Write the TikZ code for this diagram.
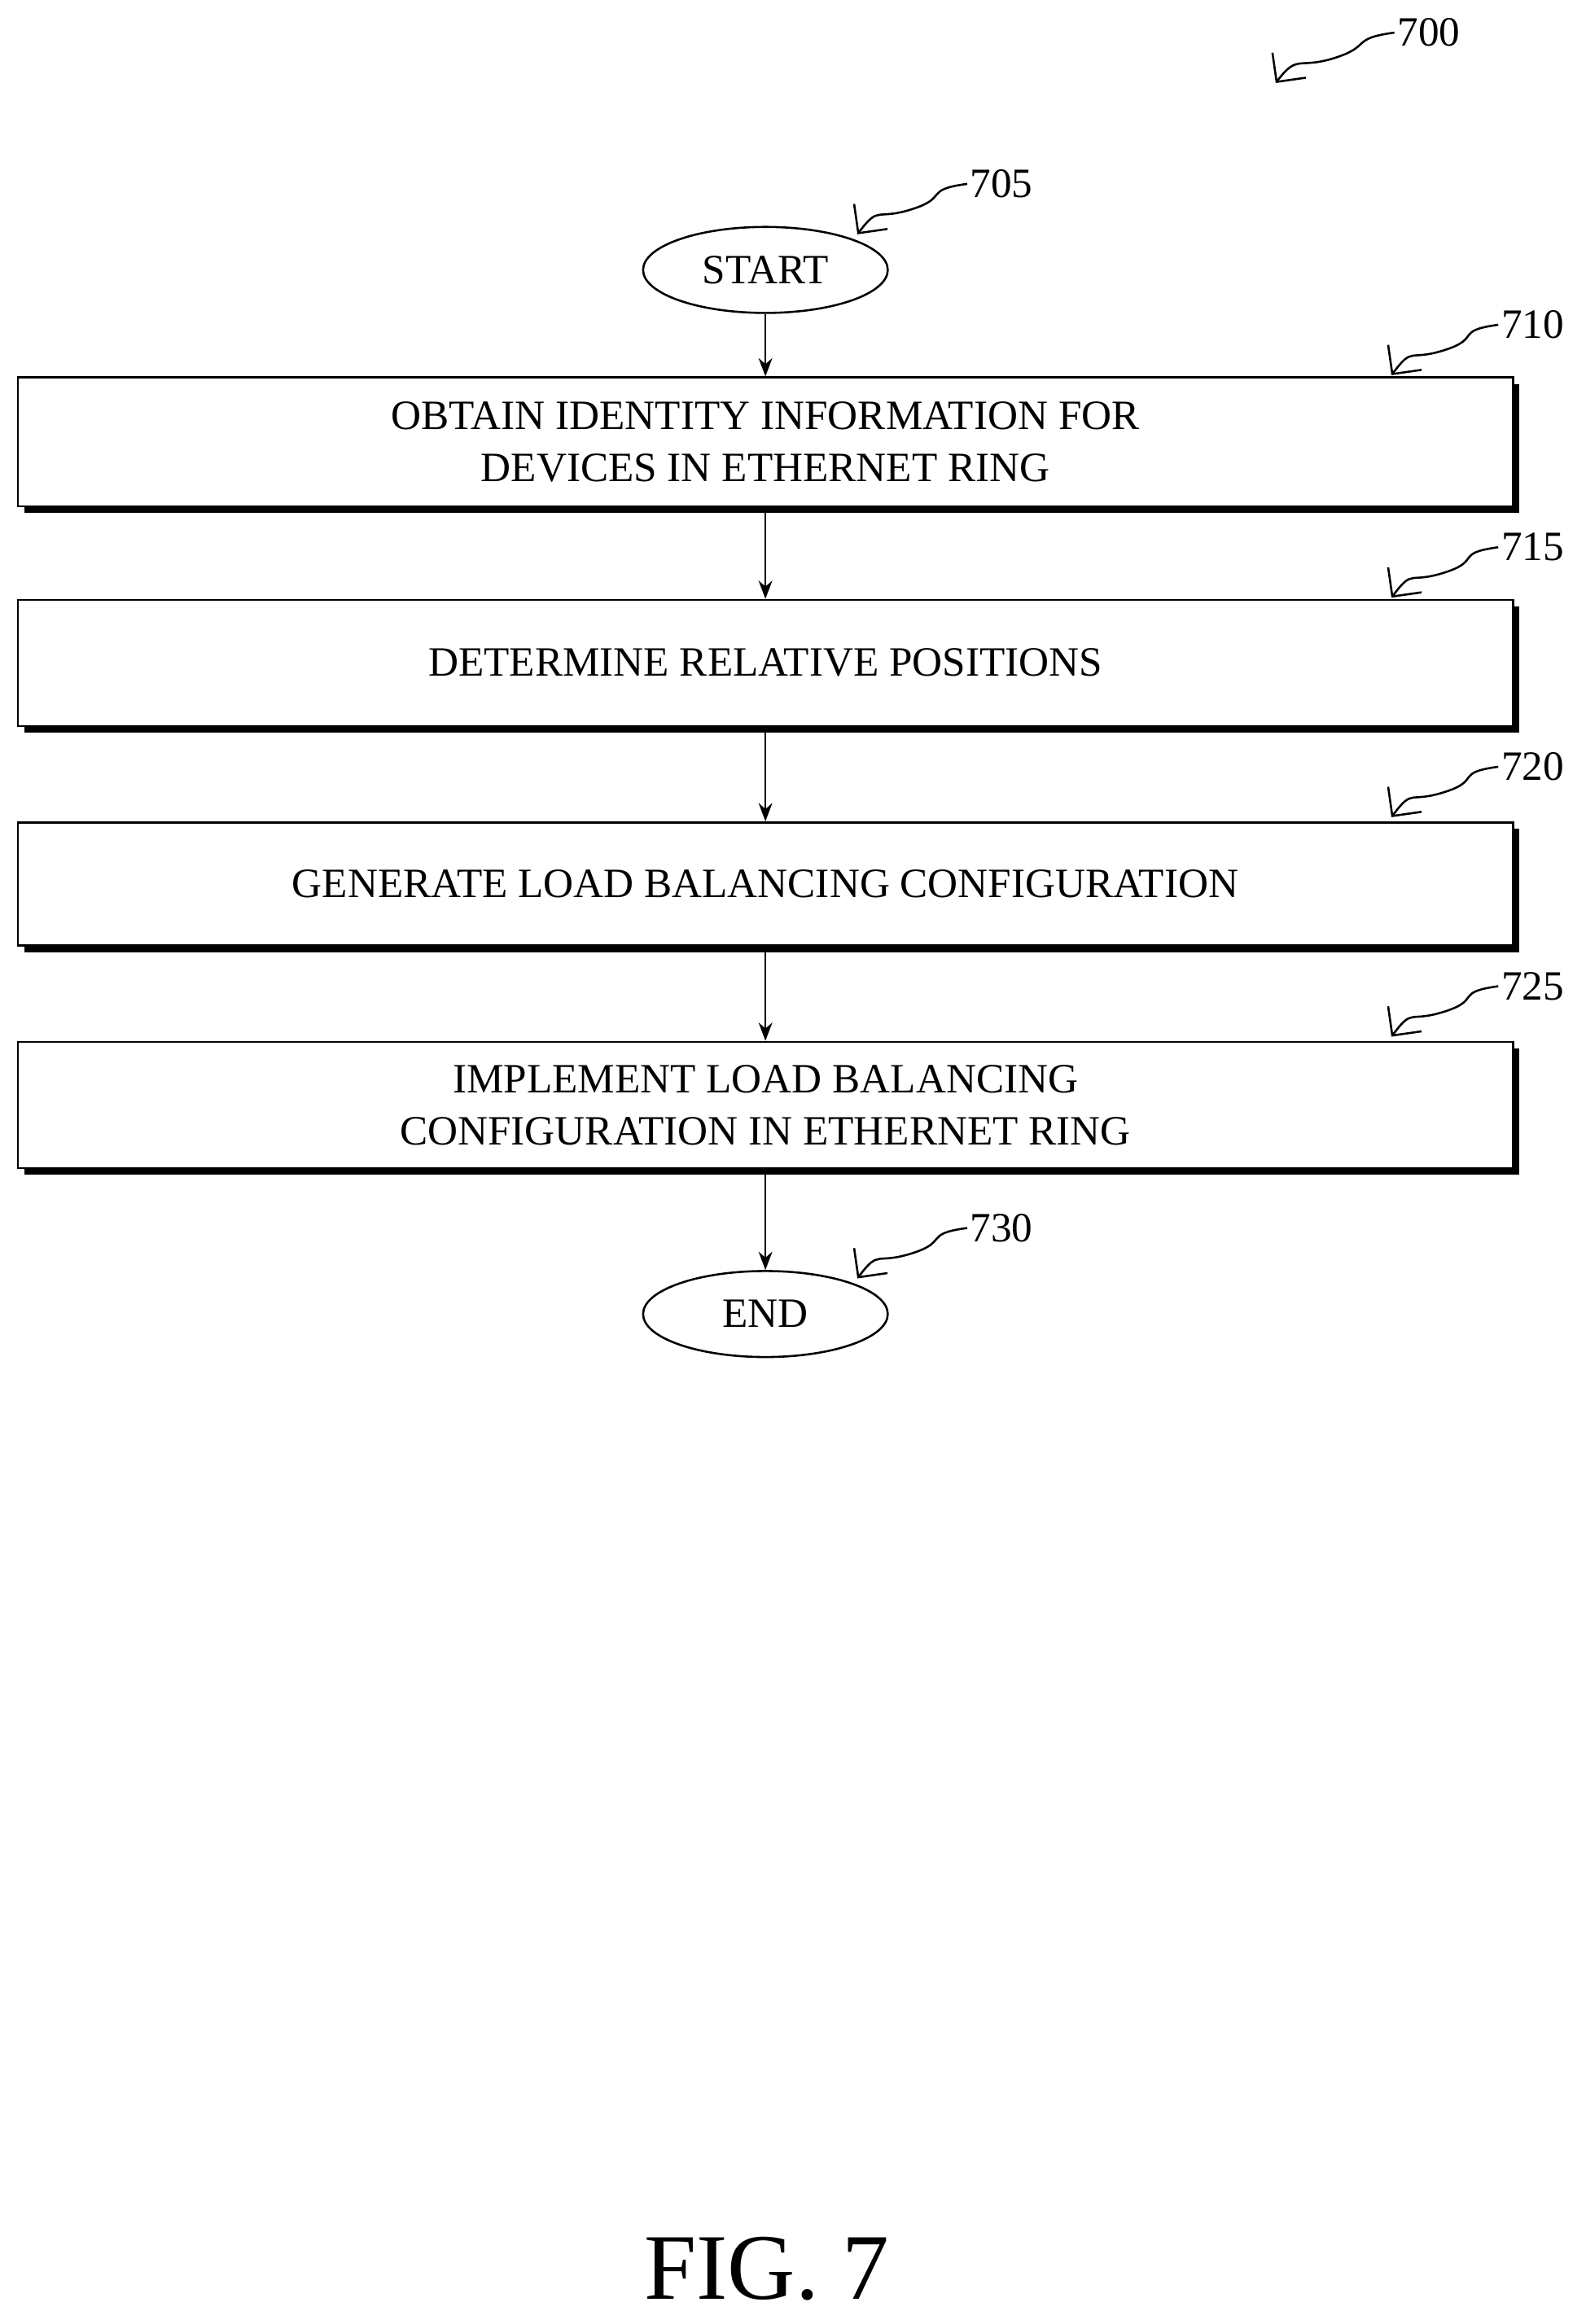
\documentclass[tikz,border=0pt]{standalone}
\usepackage{fontspec}
\setmainfont{Liberation Serif}
\usetikzlibrary{positioning,shapes.geometric,shadows,arrows.meta}
\tikzstyle{stepBox} = [draw, thick, fill=white, minimum width=20.16cm, align=center, font=\fontsize{16}{20}\selectfont, drop shadow={shadow xshift=.09cm, shadow yshift=-.09cm, fill=black, opacity=1}]
\tikzstyle{termStyle} = [draw, thick, ellipse, minimum width=3.3cm, minimum height=1.16cm, font=\fontsize{16}{20}\selectfont]
\tikzstyle{flowArrow} = [thick, -{Stealth[length=7pt]}]
\tikzstyle{refArrow} = [thick, -{Straight Barb[length=8pt]}]
\tikzstyle{refText} = [font=\fontsize{16}{20}\selectfont, anchor=west, inner sep=1pt]
\newcommand{\refMark}[4]{
  \node [refText] (#1) at (#2) {#3};
  \coordinate (#1tip) at (#4);
  \draw [refArrow] (#1.west) .. controls +(-30,4) and +(25,-8) .. ($(#1.west)!.5!(#1tip)$) .. controls +(-25,8) and +(15,-20) .. (#1tip);
}
\usetikzlibrary{calc}
\begin{document}
\begin{tikzpicture}[x=0.02cm, y=-0.02cm]
  \useasboundingbox (0,0) rectangle (1069,1567);
  % terminals and steps
  \node [termStyle] (start) at (516,182) {START};
  \node [stepBox, minimum height=1.74cm] (obtain) at (516,298) {OBTAIN IDENTITY INFORMATION FOR\\DEVICES IN ETHERNET RING};
  \node [stepBox, minimum height=1.7cm] (positions) at (516,447) {DETERMINE RELATIVE POSITIONS};
  \node [stepBox, minimum height=1.66cm] (generate) at (516,596) {GENERATE LOAD BALANCING CONFIGURATION};
  \node [stepBox, minimum height=1.7cm] (implement) at (516,745) {IMPLEMENT LOAD BALANCING\\CONFIGURATION IN ETHERNET RING};
  \node [termStyle] (end) at (516,886) {END};
  \draw [flowArrow] (start) -- (obtain);
  \draw [flowArrow] (obtain) -- (positions);
  \draw [flowArrow] (positions) -- (generate);
  \draw [flowArrow] (generate) -- (implement);
  \draw [flowArrow] (implement) -- (end);
  % reference numerals
  \refMark{r700}{940,22}{700}{860,56}
  \refMark{r705}{652,124}{705}{578,158}
  \refMark{r710}{1010,219}{710}{938,253}
  \refMark{r715}{1010,369}{715}{938,403}
  \refMark{r720}{1010,517}{720}{938,551}
  \refMark{r725}{1010,665}{725}{938,699}
  \refMark{r730}{652,828}{730}{578,862}
  \node [font=\fontsize{36}{40}\selectfont] (fig) at (517,1530) {FIG. 7};
\end{tikzpicture}
\end{document}
